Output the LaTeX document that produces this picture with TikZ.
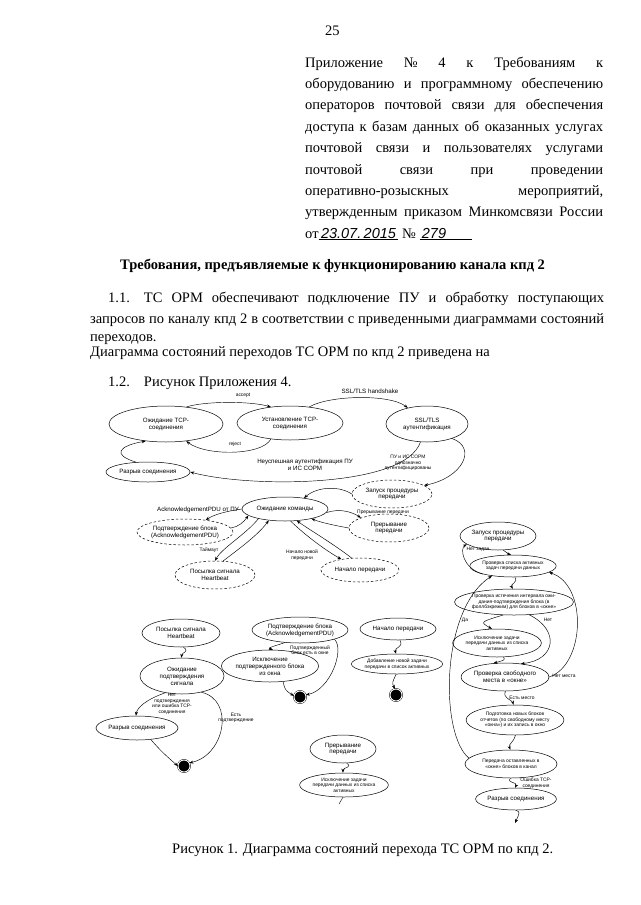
\documentclass[tikz,border=0pt]{standalone}
\usepackage{fontspec}
\setmainfont{Liberation Serif}
\setsansfont{Liberation Sans}
\usetikzlibrary{shapes.geometric,arrows.meta}

\newcommand\dfont{\sffamily\fontsize{6.2}{6.9}\selectfont}
\newcommand\sfont{\sffamily\fontsize{4.9}{5.5}\selectfont}
\newcommand\bfont{\fontsize{14.5}{21.4}\selectfont}

\tikzset{
  st/.style={ellipse, draw, line width=0.5pt, inner sep=0pt, align=center, font=\dfont},
  sst/.style={st, font=\sfont},
  dst/.style={st, dash pattern=on 2.5pt off 2pt},
  sz/.style 2 args={minimum width=#1pt, minimum height=#2pt},
  fin/.style={circle, draw, fill=black, double=white, double distance=0.9pt,
    minimum size=12pt, inner sep=0pt},
  arr/.style={-{Stealth[length=4pt,width=3pt]}, line width=0.45pt},
  lbl/.style={font=\dfont, align=center, inner sep=0pt},
  slbl/.style={lbl, font=\sfont},
  txt/.style={font=\bfont, inner sep=0pt, anchor=base west},
}

\begin{document}
\begin{tikzpicture}[x=1pt, y=-1pt]
  \path[fill=white] (0,0) rectangle (640,905);
  \useasboundingbox (0,0) rectangle (640,905);

  % page text
  \node[txt] (pg) at (325,35) {25};
  \foreach \t [count=\i from 0] in {
      {Приложение № 4 к Требованиям к},
      {оборудованию и программному обеспечению},
      {операторов почтовой связи для обеспечения},
      {доступа к базам данных об оказанных услугах},
      {почтовой связи и пользователях услугами},
      {почтовой связи при проведении},
      {оперативно-розыскных мероприятий,},
      {утвержденным приказом Минкомсвязи России}}
    \node[txt] (app\i) at (305,67+21.4*\i) {\makebox[298pt][s]{\t}};
  \node[txt] (appdate) at (305,238) {от\underline{\sffamily\itshape\,23.07.\,2015\,}
    № \underline{\sffamily\itshape\,279\hspace{26pt}}};

  \node[txt] (head) at (120,269) {\bfseries Требования, предъявляемые к функционированию канала кпд 2};
  \node[txt] (par1) at (108,302) {\makebox[496pt][s]{1.1.\hspace{14pt}ТС ОРМ обеспечивают подключение ПУ и обработку поступающих}};
  \node[txt] (par2) at (90,323) {\makebox[514pt][s]{запросов по каналу кпд 2 в соответствии с приведенными диаграммами состояний}};
  \node[txt] (par3) at (90,341) {переходов.};
  \node[txt] (par4) at (90,356) {Диаграмма состояний переходов ТС ОРМ по кпд 2 приведена на};
  \node[txt] (par5) at (108,386) {1.2.\hspace{14pt}Рисунок Приложения 4.};
  \node[txt] (cap) at (172,853) {Рисунок 1. Диаграмма состояний перехода ТС ОРМ по кпд 2.};

  % main diagram
  \node[st, sz={114}{36}] (wait) at (166,424) {Ожидание TCP-\\соединения};
  \node[st, sz={106}{34}] (est) at (290,423) {Установление TCP-\\соединения};
  \node[st, sz={82}{36}] (ssl) at (427,424) {SSL/TLS\\аутентификация};
  \node[st, sz={84}{20}] (brk) at (148,472) {Разрыв соединения};
  \node[dst, sz={80}{28}] (start) at (392,494) {Запуск процедуры\\передачи};
  \node[st, sz={86}{24}] (cmd) at (285,509) {Ожидание команды};
  \node[dst, sz={82}{26}] (ack) at (185,532) {Подтверждение блока\\(AcknowledgementPDU)};
  \node[dst, sz={80}{28}] (hb) at (215,575) {Посылка сигнала\\Heartbeat};
  \node[dst, sz={80}{28}] (intr) at (389,528) {Прерывание\\передачи};
  \node[dst, sz={78}{24}] (beg) at (360,570) {Начало передачи};

  \node[slbl] (lacc) at (243,395) {accept};
  \node[lbl] (lhs) at (370,391) {SSL/TLS handshake};
  \node[slbl] (lrej) at (235,444) {reject};
  \node[lbl] (lfail) at (305,465) {Неуспешная аутентификация ПУ\\и ИС СОРМ};
  \node[slbl] (lok) at (408,463) {ПУ и ИС СОРМ\\однозначно\\аутентифицированы};
  \node[lbl] (lackpdu) at (198,510) {AcknowledgementPDU от ПУ};
  \node[slbl] (ltime) at (209,550) {Таймаут};
  \node[slbl] (lintr) at (383,512) {Прерывание передачи};
  \node[slbl] (lnew) at (302,555) {Начало новой\\передачи};

  \draw[arr] (wait.40) .. controls (205,401) and (250,401) .. (est.140);
  \draw[arr] (est.40) .. controls (330,395) and (390,394) .. (ssl.140);
  \draw[arr] (est.220) .. controls (262,456) and (205,456) .. (wait.-40);
  \draw[arr] (ssl.250) .. controls (405,488) and (250,488) .. (brk.east);
  \draw[arr] (brk.140) .. controls (112,455) and (118,446) .. (wait.220);
  \draw[arr] (ssl.-30) .. controls (478,448) and (462,478) .. (start.15);
  \draw[arr] (start.west) .. controls (340,486) and (318,486) .. (cmd.30);
  \draw[arr] (cmd.west) .. controls (228,511) and (215,514) .. (ack.30);
  \draw[arr] (ack.5) .. controls (238,527) and (244,522) .. (cmd.190);
  \draw[arr] (cmd.200) .. controls (245,535) and (222,548) .. (hb.90);
  \draw[arr] (hb.60) .. controls (240,548) and (258,535) .. (cmd.215);
  \draw[arr] (cmd.-5) .. controls (340,508) and (352,512) .. (intr.160);
  \draw[arr] (intr.180) .. controls (338,526) and (322,523) .. (cmd.-20);
  \draw[arr] (cmd.-65) .. controls (305,535) and (325,550) .. (beg.150);
  \draw[arr] (beg.125) .. controls (335,545) and (310,530) .. (cmd.-45);

  % heartbeat
  \node[st, sz={78}{28}] (hb2) at (181,633) {Посылка сигнала\\Heartbeat};
  \node[st, sz={84}{36}] (wack) at (182,676) {Ожидание\\подтверждения\\сигнала};
  \node[st, sz={82}{24}] (brk2) at (137,728) {Разрыв соединения};
  \node[fin] (end1) at (184,766) {};
  \node[slbl] (lnoack) at (172,704) {Нет\\подтверждения\\или ошибка TCP-\\соединения};
  \node[slbl] (lyesack) at (236,718) {Есть\\подтверждение};
  \draw[arr] (hb2.-80) .. controls (190,652) and (182,652) .. (wack.92);
  \draw[arr] (wack.225) .. controls (145,700) and (137,708) .. (brk2.95);
  \draw[arr] (wack.-40) .. controls (235,700) and (225,755) .. (end1.30);
  \draw[arr] (brk2.-40) .. controls (162,752) .. (end1.180);

  % block ack
  \node[st, sz={84}{26}] (ack2) at (300,630) {Подтверждение блока\\(AcknowledgementPDU)};
  \node[st, sz={84}{32}] (drop) at (270,666) {Исключение\\подтвержденного блока\\из окна};
  \node[fin] (end2) at (300,697) {};
  \node[slbl] (lin) at (310,650) {Подтвержденный\\блок есть в окне};
  \draw[arr] (ack2.220) .. controls (268,648) .. (drop.80);
  \draw[arr] (drop.-50) .. controls (285,690) .. (end2.170);
  \draw[arr] (ack2.-15) .. controls (345,650) and (330,690) .. (end2.20);

  % new transfer
  \node[st, sz={76}{22}] (beg2) at (398,629) {Начало передачи};
  \node[sst, sz={82}{20}] (add) at (397,664) {Добавление новой задачи\\передачи в список активных};
  \node[fin] (end3) at (396,695) {};
  \draw[arr] (beg2.-80) .. controls (404,648) and (394,647) .. (add.95);
  \draw[arr] (add.-95) .. controls (392,683) .. (end3.100);

  % abort
  \node[st, sz={66}{28}] (intr2) at (343,749) {Прерывание\\передачи};
  \node[sst, sz={80}{24}] (del) at (344,785) {Исключение задачи\\передачи данных из списка\\активных};
  \coordinate (delout) at (339,804);
  \draw[arr] (intr2.-75) .. controls (353,768) and (343,767) .. (del.95);
  \draw (del.-95) -- (delout);

  % transfer loop
  \node[st, sz={76}{28}] (run) at (498,536) {Запуск процедуры\\передачи};
  \node[sst, sz={84}{22}] (chk) at (513,566) {Проверка списка активных\\задач передачи данных};
  \node[sst, sz={108}{26}] (tmo) at (514,602) {Проверка истечения интервала ожи-\\дания-подтверждения блока (в\\фоллбэкрежим) для блоков в «окне»};
  \node[sst, sz={86}{28}] (excl) at (497,643) {Исключение задачи\\передачи данных из списка\\активных};
  \node[st, sz={86}{28}] (free) at (505,677) {Проверка свободного\\места в «окне»};
  \node[sst, sz={92}{30}] (prep) at (515,720) {Подготовка новых блоков\\отчетов (по свободному месту\\«окна») и их запись в окно};
  \node[sst, sz={92}{28}] (send) at (511,764) {Передача оставленных в\\«окне» блоков в канал};
  \node[st, sz={76}{22}] (brk3) at (516,799) {Разрыв соединения};
  \coordinate (brkout) at (515,823);

  \node[slbl] (lnotask) at (478,549) {Нет задач};
  \node[slbl] (lyes) at (465,620) {Да};
  \node[slbl] (lno) at (548,620) {Нет};
  \node[slbl] (lnoroom) at (564,676) {Нет места};
  \node[slbl] (lroom) at (522,698) {Есть место};
  \node[slbl] (ltcp) at (536,783) {Ошибка TCP-\\соединения};

  \draw[arr] (run.-70) .. controls (512,556) and (505,553) .. (chk.100);
  \draw[arr] (chk.195) .. controls (462,568) and (460,548) .. (run.195);
  \draw[arr] (chk.-80) .. controls (519,582) and (510,584) .. (tmo.95);
  \draw[arr] (tmo.230) .. controls (480,622) .. (excl.110);
  \draw[arr] (tmo.-40) .. controls (560,630) and (556,660) .. (free.40);
  \draw[arr] (excl.-65) .. controls (505,660) .. (free.130);
  \draw[arr] (free.0) .. controls (585,665) and (588,585) .. (chk.-10);
  \draw[arr] (free.-88) .. controls (502,698) and (512,700) .. (prep.95);
  \draw[arr] (prep.-88) .. controls (514,742) and (508,744) .. (send.92);
  \draw[arr] (send.172) .. controls (440,735) and (440,610) .. (chk.205);
  \draw[arr] (send.-92) .. controls (506,783) and (518,782) .. (brk3.95);
  \draw[arr] (brk3.-90) .. controls (520,812) .. (brkout);
\end{tikzpicture}
\end{document}
